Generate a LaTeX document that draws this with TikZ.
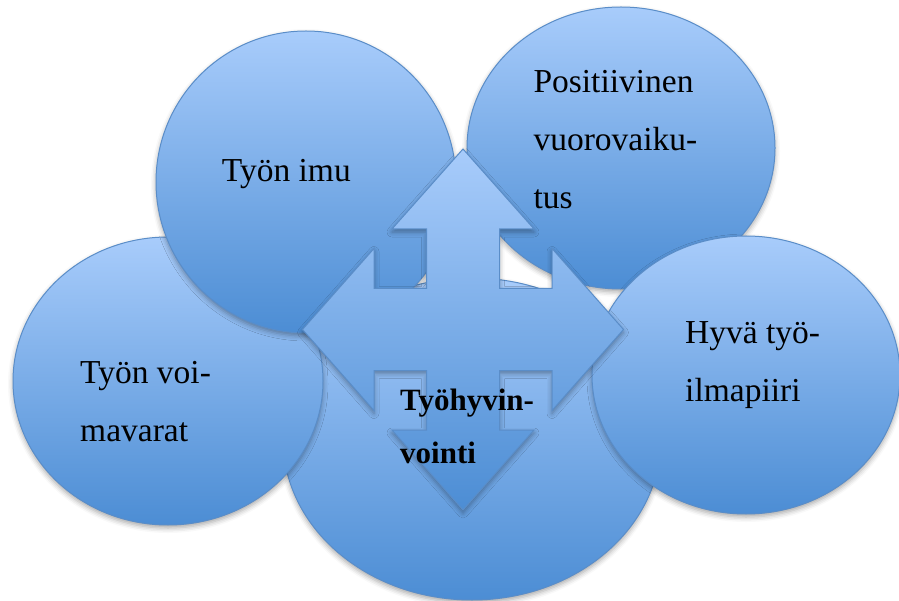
\documentclass[tikz,border=0pt]{standalone}
\usepackage{fontspec}
\setmainfont{Liberation Serif}
\usetikzlibrary{shapes.geometric,shadows.blur}
\definecolor{ctop}{HTML}{A8CCFB}
\definecolor{cbot}{HTML}{4C8DD4}
\definecolor{cline}{HTML}{5A8DC8}
\begin{document}
\begin{tikzpicture}[x=1pt,y=-1pt,
  softshadow/.style={blur shadow={shadow xshift=0pt, shadow yshift=-3pt, shadow blur radius=5pt, shadow opacity=35}},
  bubble/.style={ellipse, draw=cline, line width=1pt, top color=ctop, bottom color=cbot, inner sep=0pt, softshadow},
  quad/.style={draw=cline, line width=1pt, line join=miter, top color=ctop, bottom color=cbot, softshadow},
  lbl/.style={anchor=base west, align=left, inner sep=0pt, font=\fontsize{33.5}{58}\selectfont},
  blbl/.style={anchor=base west, align=left, inner sep=0pt, font=\bfseries\fontsize{31}{53}\selectfont}]
\useasboundingbox (0,0) rectangle (899,601);
% circles (back to front)
\node[bubble, minimum width=378pt, minimum height=322pt] (cb) at (472,439) {};
\node[bubble, minimum width=310pt, minimum height=288pt] (cl) at (168,381) {};
\node[bubble, minimum width=300pt, minimum height=302pt] (ctl) at (306,182) {};
\node[bubble, minimum width=308pt, minimum height=282pt] (ctr) at (621,148) {};
\node[bubble, minimum width=308pt, minimum height=278pt] (cr) at (746,375) {};
% four-way arrow
\coordinate (ar) at (463,329.5);
\draw[quad] (463,149) -- (534,229) -- (499.5,229) -- (499.5,288.5) -- (552,288.5) -- (552,248.5)
  -- (623.5,329.5) -- (552,410.5) -- (552,370.5) -- (499.5,370.5) -- (499.5,430) -- (534,430)
  -- (463,510) -- (392,430) -- (426.5,430) -- (426.5,370.5) -- (374,370.5) -- (374,410.5)
  -- (302.5,329.5) -- (374,248.5) -- (374,288.5) -- (426.5,288.5) -- (426.5,229) -- (392,229) -- cycle;
% labels (anchor = baseline of the last line)
\node[lbl] (t1) at (221.7,181.7) {Työn imu};
\node[lbl] (t2) at (533.3,208.3) {Positiivinen\\vuorovaiku-\\tus};
\node[lbl] (t3) at (80,441.7) {Työn voi-\\mavarat};
\node[lbl] (t4) at (685,401.7) {Hyvä työ-\\ilmapiiri};
\node[blbl] (t5) at (400,463.3) {Työhyvin-\\vointi};
\end{tikzpicture}
\end{document}
